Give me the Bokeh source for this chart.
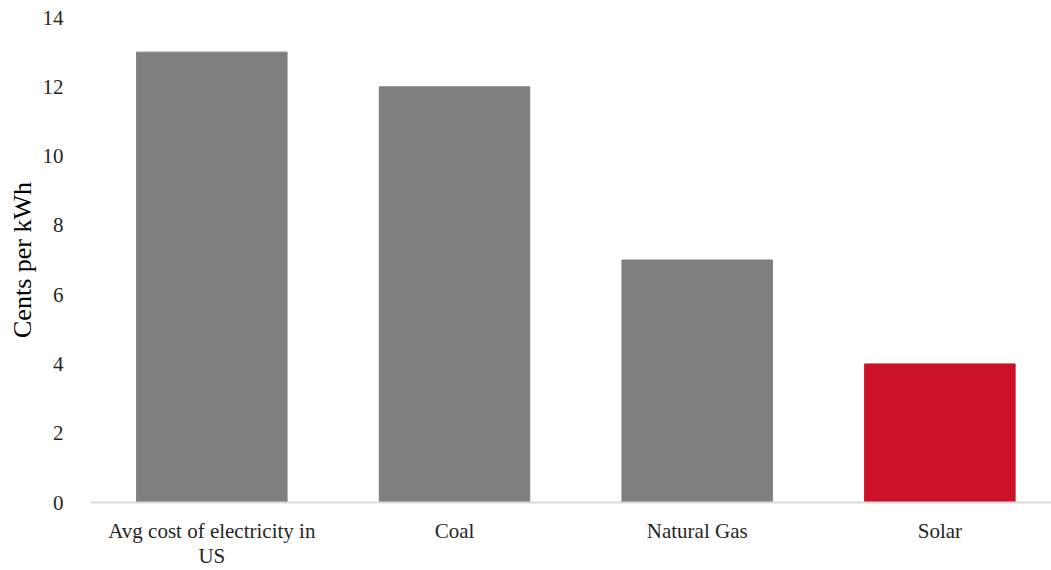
from bokeh.plotting import figure
from bokeh.models import Range1d, FixedTicker, ColumnDataSource
from bokeh.embed import file_html
from bokeh.resources import INLINE

# Levelized cost comparison, cents per kWh
categories = ["Avg cost of electricity in\nUS", "Coal", "Natural Gas", "Solar"]
values = [13, 12, 7, 4]
colors = ["#7f7f7f", "#7f7f7f", "#7f7f7f", "#cc1229"]
y_ticks = [0, 2, 4, 6, 8, 10, 12, 14]

FONT = "Liberation Serif"

xs = list(range(len(categories)))
src = ColumnDataSource(dict(x=xs, top=values, color=colors))

p = figure(width=1051, height=570, output_backend="svg", toolbar_location=None,
           x_range=Range1d(-0.5, 3.46), y_range=Range1d(0, 14),
           min_border_left=90, min_border_right=0, min_border_top=17,
           min_border_bottom=66)

p.vbar(x="x", top="top", width=0.62, color="color", source=src)

p.outline_line_color = None
p.grid.grid_line_color = None
p.background_fill_color = "white"
p.border_fill_color = "white"

# x axis: light baseline, no ticks, category names under each bar
p.xaxis.ticker = FixedTicker(ticks=xs)
p.xaxis.major_label_overrides = {i: c for i, c in enumerate(categories)}
p.xaxis.axis_line_color = "#d9d9d9"
p.xaxis.axis_line_width = 2
p.xaxis.major_tick_line_color = None
p.xaxis.minor_tick_line_color = None
p.xaxis.major_label_text_font = FONT
p.xaxis.major_label_text_font_size = "21px"
p.xaxis.major_label_text_line_height = 1.05
p.xaxis.major_label_text_color = "#262626"
p.xaxis.major_label_standoff = 10

# y axis: labels only
p.yaxis.ticker = FixedTicker(ticks=y_ticks)
p.yaxis.axis_line_color = None
p.yaxis.major_tick_line_color = None
p.yaxis.minor_tick_line_color = None
p.yaxis.major_label_text_font = FONT
p.yaxis.major_label_text_font_size = "21px"
p.yaxis.major_label_text_color = "#262626"
p.yaxis.major_label_standoff = 21
p.yaxis.axis_label = "Cents per kWh"
p.yaxis.axis_label_text_font = FONT
p.yaxis.axis_label_text_font_size = "26px"
p.yaxis.axis_label_text_font_style = "normal"
p.yaxis.axis_label_text_color = "#000000"
p.yaxis.axis_label_standoff = 3

open("out.html", "w").write(file_html(p, INLINE))
